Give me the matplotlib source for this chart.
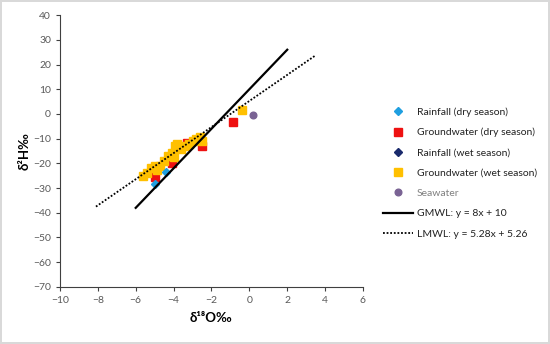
import numpy as np
import matplotlib
matplotlib.use('Agg')
import matplotlib.pyplot as plt

plt.rcParams['font.family'] = ['Lato', 'DejaVu Sans']

# isotope data (d18O, d2H)
rain_dry_x = [-5.0, -4.4]
rain_dry_y = [-28.3, -23.5]

gw_dry_x = [-5.0, -4.1, -3.3, -2.5, -0.85]
gw_dry_y = [-25.5, -19.8, -11.7, -13.0, -3.3]

rain_wet_x = []
rain_wet_y = []

gw_wet_x = [-5.6, -5.4, -5.2, -5.0, -4.9, -4.7, -4.5, -4.3, -4.1, -4.0,
            -3.9, -3.8, -3.6, -3.4, -3.2, -3.0, -2.8, -2.6, -2.5, -0.4]
gw_wet_y = [-25.0, -24.0, -22.0, -21.0, -22.5, -21.0, -19.0, -17.0, -16.0, -17.5,
            -13.0, -12.0, -14.0, -13.0, -12.0, -11.0, -10.0, -9.5, -11.0, 1.5]

sea_x = [0.2]
sea_y = [-0.3]

gmwl_x = np.array([-6, 2])
lmwl_x = np.array([-8.1, 3.5])

fig = plt.figure(figsize=(5.5, 3.44), dpi=100)
fig.patch.set_edgecolor('#d9d9d9')
fig.patch.set_linewidth(1.5)
ax = fig.add_axes([0.109, 0.166, 0.551, 0.79])

ax.plot(rain_dry_x, rain_dry_y, 'D', color='#1f9fe0', ms=4.2, label='Rainfall (dry season)', zorder=3)
ax.plot(gw_dry_x, gw_dry_y, 's', color='#ee1111', ms=6, label='Groundwater (dry season)', zorder=2)
ax.plot(rain_wet_x, rain_wet_y, 'D', color='#1a2a6c', ms=4.2, label='Rainfall (wet season)')
ax.plot(gw_wet_x, gw_wet_y, 's', color='#ffc000', ms=6, label='Groundwater (wet season)', zorder=2)
ax.plot(sea_x, sea_y, 'o', color='#7a6394', ms=4.8, label='Seawater')
ax.plot(gmwl_x, 8 * gmwl_x + 10, '-', color='black', lw=1.6, label='GMWL: y = 8x + 10', zorder=4)
ax.plot(lmwl_x, 5.28 * lmwl_x + 5.26, linestyle=(0, (1, 1)), color='black', lw=1.3,
        label='LMWL: y = 5.28x + 5.26', zorder=4)

ax.set_xlim(-10, 6)
ax.set_ylim(-70, 40)
ax.set_xticks(np.arange(-10, 7, 2))
ax.set_yticks(np.arange(-70, 41, 10))
ax.spines['top'].set_visible(False)
ax.spines['right'].set_visible(False)
ax.spines['left'].set_color('#404040')
ax.spines['bottom'].set_color('#404040')
ax.tick_params(labelsize=7.5, colors='#404040', length=3, width=0.8)
for lab in ax.get_xticklabels() + ax.get_yticklabels():
    lab.set_color('#595959')

ax.set_xlabel('δ¹⁸O‰', fontsize=9.5, fontweight='bold', labelpad=5)
ax.set_ylabel('δ²H‰', fontsize=9.5, fontweight='bold', labelpad=2)

leg = fig.legend(loc='upper left', bbox_to_anchor=(0.68, 0.715), frameon=False,
                 fontsize=7.5, handlelength=2.8, handletextpad=0.4, labelspacing=1.05,
                 numpoints=1)
leg.get_texts()[4].set_color('#808080')
for t in leg.get_texts()[:4] + leg.get_texts()[5:]:
    t.set_color('#222222')

fig.savefig('out.png', dpi=100)
